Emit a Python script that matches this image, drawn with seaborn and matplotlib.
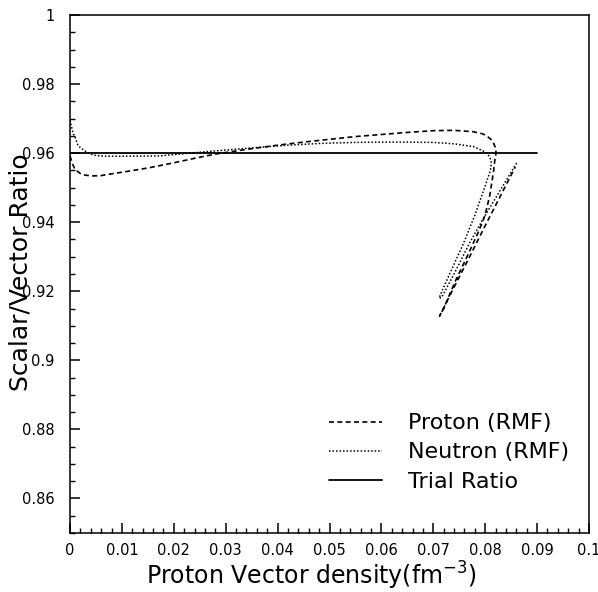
import numpy as np
import pandas as pd
import matplotlib
matplotlib.use("Agg")
import matplotlib.pyplot as plt
import seaborn as sns

# curves (parametric, so order matters)
proton_x = [0.0, 0.0005, 0.001, 0.002, 0.003, 0.0045, 0.006, 0.008, 0.011, 0.015,
            0.020, 0.024, 0.0283, 0.035, 0.040, 0.045, 0.050, 0.055, 0.060, 0.065,
            0.070, 0.074, 0.0777, 0.0795, 0.0803, 0.0811, 0.0816, 0.0820, 0.0821,
            0.0819, 0.0816, 0.0809, 0.0800, 0.0787, 0.0765, 0.0742, 0.0720, 0.0712,
            0.0740, 0.0770, 0.0800, 0.0830, 0.0858]
proton_y = [0.9592, 0.9568, 0.9552, 0.9541, 0.9536, 0.9534, 0.9535, 0.9540, 0.9547, 0.9557,
            0.9572, 0.9585, 0.9598, 0.9613, 0.9623, 0.9632, 0.9640, 0.9648, 0.9654, 0.9660,
            0.9665, 0.9666, 0.9662, 0.9656, 0.9650, 0.9640, 0.9629, 0.9615, 0.9600,
            0.9585, 0.9546, 0.9479, 0.9421, 0.9372, 0.9300, 0.9228, 0.9150, 0.9128,
            0.9212, 0.9300, 0.9390, 0.9478, 0.9560]

neutron_x = [0.0, 0.0006, 0.001, 0.0015, 0.002, 0.0031, 0.004, 0.005, 0.007, 0.010,
             0.0173, 0.0238, 0.030, 0.0366, 0.042, 0.048, 0.055, 0.060, 0.065, 0.070,
             0.074, 0.0777, 0.0795, 0.0803, 0.0809, 0.0812, 0.0810, 0.0800, 0.0780,
             0.0758, 0.0735, 0.0718, 0.0711, 0.0716, 0.0740, 0.0770, 0.0800, 0.0830, 0.0862]
neutron_y = [0.9695, 0.9657, 0.9645, 0.9624, 0.9616, 0.9604, 0.9597, 0.9593, 0.9591, 0.9591,
             0.9592, 0.9601, 0.9609, 0.9617, 0.9623, 0.9628, 0.9631, 0.9632, 0.9632, 0.9631,
             0.9627, 0.9619, 0.9607, 0.9600, 0.9588, 0.9572, 0.9550, 0.9505, 0.9420,
             0.9338, 0.9262, 0.9205, 0.9180, 0.9182, 0.9250, 0.9340, 0.9420, 0.9495, 0.9575]

trial_x = [0.0, 0.09]
trial_y = [0.96, 0.96]

x_ticks = [0, 0.01, 0.02, 0.03, 0.04, 0.05, 0.06, 0.07, 0.08, 0.09, 0.1]
x_labels = ["0", "0.01", "0.02", "0.03", "0.04", "0.05", "0.06", "0.07", "0.08", "0.09", "0.1"]
y_ticks = [0.86, 0.88, 0.9, 0.92, 0.94, 0.96, 0.98, 1.0]
y_labels = ["0.86", "0.88", "0.9", "0.92", "0.94", "0.96", "0.98", "1"]

sns.set_style("ticks")
plt.rcParams["font.family"] = ["DejaVu Sans"]
plt.rcParams["xtick.direction"] = "in"
plt.rcParams["ytick.direction"] = "in"
plt.rcParams["xtick.top"] = False
plt.rcParams["ytick.right"] = False
plt.rcParams["xtick.minor.top"] = False
plt.rcParams["ytick.minor.right"] = False
plt.rcParams["text.color"] = "black"
plt.rcParams["xtick.color"] = "black"
plt.rcParams["ytick.color"] = "black"
plt.rcParams["axes.labelcolor"] = "black"

fig = plt.figure(figsize=(5.98, 5.92), dpi=100)
ax = fig.add_axes([70 / 598, 59 / 592, 519 / 598, 518 / 592])

sns.lineplot(x=proton_x, y=proton_y, sort=False, estimator=None, ax=ax, color="black",
             lw=1.2, linestyle=(0, (3, 2)), label="Proton (RMF)")
sns.lineplot(x=neutron_x, y=neutron_y, sort=False, estimator=None, ax=ax, color="black",
             lw=1.1, linestyle=(0, (1, 1.3)), label="Neutron (RMF)")
sns.lineplot(x=trial_x, y=trial_y, sort=False, estimator=None, ax=ax, color="black",
             lw=1.3, linestyle="-", label="Trial Ratio")

ax.set_xlim(0, 0.1)
ax.set_ylim(0.85, 1.0)
ax.set_xticks(x_ticks)
ax.set_xticklabels(x_labels)
ax.set_yticks(y_ticks)
ax.set_yticklabels(y_labels)
ax.set_xticks(np.arange(0, 0.1001, 0.002), minor=True)
ax.set_yticks(np.arange(0.85, 1.0001, 0.005), minor=True)
ax.tick_params(which="major", length=7, width=1.1, labelsize=10.5, color="black")
ax.tick_params(which="minor", length=3.5, width=1.0, color="black")
ax.tick_params(axis="x", pad=7)
ax.tick_params(axis="y", pad=11)
ax.tick_params(which="both", top=False, right=False, labeltop=False, labelright=False)
for s in ax.spines.values():
    s.set_linewidth(1.1)
    s.set_color("black")

ax.set_xlabel("")
ax.set_ylabel("")
fig.text(311 / 598, 1 - 576 / 592, r"Proton Vector density(fm$^{-3}$)", fontsize=17,
         ha="center", va="center")
fig.text(21 / 598, 1 - 272 / 592, "Scalar/Vector Ratio", fontsize=18, rotation=90,
         ha="center", va="center")

ax.legend(loc="upper left", bbox_to_anchor=(0.499, 0.231), frameon=False, fontsize=16,
          handlelength=2.4, handletextpad=1.15, labelspacing=0.41, borderpad=0,
          borderaxespad=0)

# make sure nothing is drawn on the top and right spines
fig.canvas.draw()
for axis in (ax.xaxis, ax.yaxis):
    for t in axis.get_major_ticks() + axis.get_minor_ticks():
        t.tick2line.set_visible(False)

fig.savefig("out.png", dpi=100)
